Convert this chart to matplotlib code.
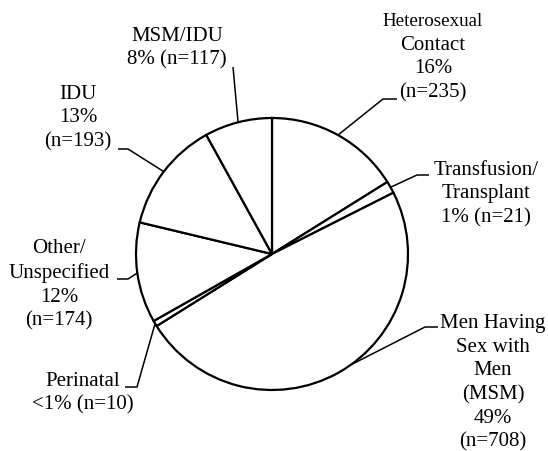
import matplotlib
matplotlib.use("Agg")
import matplotlib.pyplot as plt
import numpy as np

plt.rcParams["font.family"] = ["Liberation Serif", "DejaVu Serif"]

# data, clockwise from 12 o'clock
categories = ["Heterosexual\nContact", "Transfusion/\nTransplant", "Men Having\nSex with\nMen\n(MSM)",
              "Perinatal", "Other/\nUnspecified", "IDU", "MSM/IDU"]
counts = [235, 21, 708, 10, 174, 193, 117]
pct_labels = ["16%", "1%", "49%", "<1%", "12%", "13%", "8%"]

W, H = 548, 451
CX, CY, R = 272, 254, 136  # pie centre / radius in pixels


def px(x, y):
    # pixel position -> data coords (pie radius = 1)
    return (x - CX) / R, (CY - y) / R


fig = plt.figure(figsize=(W / 100, H / 100), dpi=100)
ax = fig.add_axes([0, 0, 1, 1])
wedges, _ = ax.pie(counts, startangle=90, counterclock=False, radius=1,
                   colors=["white"] * len(counts),
                   wedgeprops=dict(edgecolor="black", linewidth=1.6))
ax.set_aspect("equal")
x0, y0 = px(0, H)
x1, y1 = px(W, 0)
ax.set_xlim(x0, x1)
ax.set_ylim(y0, y1)
ax.axis("off")

# label text built from the data
texts = []
for cat, p, n in zip(categories, pct_labels, counts):
    texts.append(f"{cat}\n{p}\n(n={n})")
texts[1] = f"{categories[1]}\n{pct_labels[1]} (n={counts[1]})"
texts[3] = f"{categories[3]}\n{pct_labels[3]} (n={counts[3]})"
texts[6] = f"{categories[6]}\n{pct_labels[6]} (n={counts[6]})"

# layout: text centre and leader line points (pixels)
text_pos = [(433, 69), (486, 194), (493, 383), (83, 393), (59, 285), (78, 118), (177, 48)]
leader_pts = [
    [(397, 99), (383, 99)],
    [(429, 175), (417, 175)],
    [(438, 327), (425, 327)],
    [(125, 387), (137, 387)],
    [(117, 279), (128, 279)],
    [(118, 149), (128, 149)],
    [(233, 67)],
]
# MSM leader meets the rim a little before the slice middle
leader_shift = [0, 0, 6, 0, 0, 0, 0]

fs = 15
ls = 1.33
for i, (w, t) in enumerate(zip(wedges, texts)):
    tx, ty = text_pos[i]
    if i == 0:
        # first line of this label is set a bit smaller
        first, rest = t.split("\n", 1)
        ax.text(*px(tx, 21), first, ha="center", va="center", fontsize=13.7)
        ax.text(*px(tx, ty), rest, ha="center", va="center", fontsize=fs,
                multialignment="center", linespacing=ls)
    else:
        ax.text(*px(tx, ty), t, ha="center", va="center", fontsize=fs,
                multialignment="center", linespacing=ls)
    mid = np.deg2rad((w.theta1 + w.theta2) / 2 + leader_shift[i])
    pts = [px(x, y) for x, y in leader_pts[i]] + [(np.cos(mid), np.sin(mid))]
    xs, ys = zip(*pts)
    ax.plot(xs, ys, color="black", linewidth=1.1, solid_capstyle="butt")

fig.savefig("out.png", dpi=100, facecolor="white")
